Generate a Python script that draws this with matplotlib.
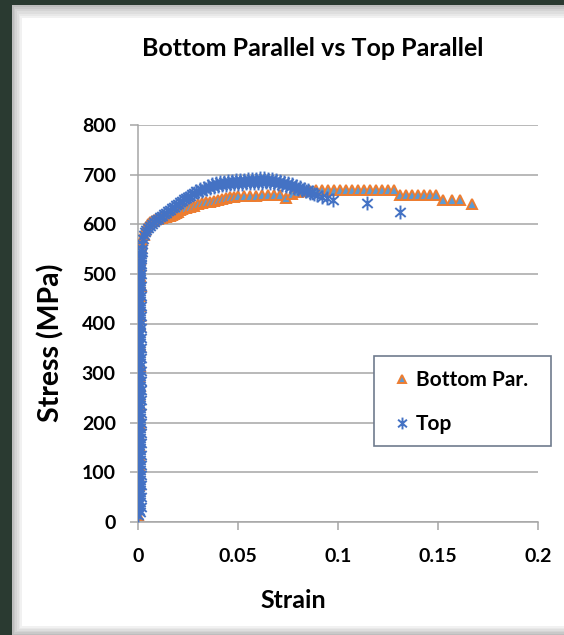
import matplotlib
matplotlib.use("Agg")
import matplotlib.pyplot as plt
from matplotlib.patches import Rectangle
from matplotlib.path import Path

W, H = 564, 635

# ---- data: stress (MPa) vs strain ----
bottom_strain = [
    0.0000, 0.0004, 0.0001, 0.0005, 0.0002, 0.0006, 0.0003, 0.0007, 0.0004, 0.0008,
    0.0004, 0.0009, 0.0005, 0.0010, 0.0006, 0.0010, 0.0006, 0.0011, 0.0007, 0.0012,
    0.0008, 0.0012, 0.0008, 0.0013, 0.0009, 0.0010, 0.0011, 0.0012, 0.0014, 0.0017,
    0.0022, 0.0028, 0.0034, 0.0040, 0.0050, 0.0060, 0.0070, 0.0080, 0.0090, 0.0100,
    0.0110, 0.0120, 0.0130, 0.0140, 0.0150, 0.0160, 0.0170, 0.0180, 0.0190, 0.0200,
    0.0210, 0.0220, 0.0240, 0.0260, 0.0280, 0.0300, 0.0320, 0.0340, 0.0360, 0.0380,
    0.0400, 0.0420, 0.0440, 0.0460, 0.0480, 0.0500, 0.0530, 0.0560, 0.0590, 0.0620,
    0.0650, 0.0680, 0.0710, 0.0740, 0.0770, 0.0800, 0.0830, 0.0860, 0.0890, 0.0920,
    0.0950, 0.0980, 0.1010, 0.1040, 0.1070, 0.1100, 0.1130, 0.1160, 0.1190, 0.1220,
    0.1250, 0.1280, 0.1310, 0.1340, 0.1370, 0.1400, 0.1430, 0.1460, 0.1490, 0.1525,
    0.1570, 0.1610, 0.1670,
]
bottom_stress = [
    15, 35, 55, 75, 95, 115, 135, 155, 175, 195,
    215, 235, 255, 275, 295, 315, 335, 355, 375, 395,
    415, 435, 455, 475, 495, 515, 530, 545, 555, 562,
    568, 578, 588, 595, 600, 604, 606, 608, 610, 610,
    612, 612, 614, 614, 616, 616, 618, 620, 622, 625,
    628, 630, 632, 634, 636, 640, 642, 644, 645, 646,
    648, 650, 652, 654, 655, 656, 656, 657, 657, 658,
    658, 658, 658, 652, 660, 664, 666, 668, 670, 670,
    670, 670, 670, 670, 670, 670, 670, 670, 670, 670,
    670, 670, 658, 658, 658, 658, 658, 658, 658, 648,
    648, 648, 640,
]

top_strain = [
    # elastic loading
    0.0000, 0.0009, 0.0004, 0.0013, 0.0002, 0.0011, 0.0006, 0.0015, 0.0001, 0.0008,
    0.0012, 0.0005, 0.0016, 0.0003, 0.0010, 0.0007, 0.0014, 0.0000, 0.0009, 0.0004,
    0.0013, 0.0002, 0.0011, 0.0006, 0.0015, 0.0001, 0.0008, 0.0012, 0.0005, 0.0016,
    0.0003, 0.0010, 0.0007, 0.0014, 0.0000, 0.0009, 0.0004, 0.0013, 0.0002, 0.0011,
    0.0006, 0.0015, 0.0001, 0.0008, 0.0012, 0.0005, 0.0016, 0.0003, 0.0010, 0.0007,
    0.0014, 0.0000, 0.0009, 0.0004, 0.0013, 0.0002, 0.0011, 0.0006, 0.0015, 0.0001,
    0.0008, 0.0012, 0.0005, 0.0016, 0.0003, 0.0010, 0.0007, 0.0014, 0.0001, 0.0009,
    0.0004, 0.0013, 0.0002, 0.0011, 0.0006, 0.0015, 0.0001, 0.0008, 0.0012, 0.0005,
    0.0016, 0.0003, 0.0010, 0.0007, 0.0014, 0.0002, 0.0009, 0.0004, 0.0013, 0.0003,
    0.0011, 0.0006, 0.0015, 0.0004, 0.0008, 0.0012, 0.0006, 0.0016, 0.0008, 0.0012,
    0.0010, 0.0014, 0.0012, 0.0016, 0.0015, 0.0017, 0.0018, 0.0019,
    # plastic flow
    0.0020, 0.0025, 0.0030, 0.0035, 0.0040, 0.0050, 0.0060, 0.0070, 0.0080,
    0.0090, 0.0100, 0.0110, 0.0120, 0.0130, 0.0140, 0.0150, 0.0160, 0.0170, 0.0180,
    0.0190, 0.0200, 0.0210, 0.0220, 0.0230, 0.0240, 0.0250, 0.0260, 0.0270, 0.0280,
    0.0290, 0.0300, 0.0310, 0.0320, 0.0330, 0.0340, 0.0350, 0.0360, 0.0370, 0.0380,
    0.0390, 0.0400, 0.0410, 0.0420, 0.0430, 0.0440, 0.0450, 0.0460, 0.0470, 0.0480,
    0.0490, 0.0500, 0.0510, 0.0520, 0.0530, 0.0540, 0.0550, 0.0560, 0.0570, 0.0580,
    0.0590, 0.0600, 0.0610, 0.0620, 0.0630, 0.0640, 0.0650, 0.0660, 0.0670, 0.0680,
    0.0690, 0.0700, 0.0710, 0.0720, 0.0730, 0.0740, 0.0750, 0.0760, 0.0770, 0.0780,
    0.0790, 0.0800, 0.0810, 0.0820, 0.0830, 0.0840, 0.0850, 0.0860, 0.0870, 0.0880,
    0.0895, 0.0920, 0.0945, 0.0975, 0.1145, 0.1310,
]
top_stress = [
    # elastic loading
    15, 20, 25, 30, 35, 40, 45, 50, 55, 60,
    65, 70, 75, 80, 85, 90, 95, 100, 105, 110,
    115, 120, 125, 130, 135, 140, 145, 150, 155, 160,
    165, 170, 175, 180, 185, 190, 195, 200, 205, 210,
    215, 220, 225, 230, 235, 240, 245, 250, 255, 260,
    265, 270, 275, 280, 285, 290, 295, 300, 305, 310,
    315, 320, 325, 330, 335, 340, 345, 350, 355, 360,
    365, 370, 375, 380, 385, 390, 395, 400, 405, 410,
    415, 420, 425, 430, 435, 440, 445, 450, 455, 460,
    465, 470, 475, 480, 485, 490, 495, 500, 505, 510,
    515, 520, 525, 530, 535, 540, 545, 550,
    # plastic flow
    560, 570, 578, 584, 588, 593, 597, 601, 605,
    608, 611, 614, 617, 620, 623, 626, 629, 632, 635,
    638, 641, 644, 647, 650, 652, 655, 657, 660, 662,
    666, 664, 671, 668, 674, 671, 678, 673, 681, 675,
    683, 677, 685, 679, 686, 680, 687, 681, 688, 681,
    689, 682, 690, 682, 690, 683, 691, 683, 692, 684,
    692, 684, 693, 684, 693, 685, 692, 684, 692, 683,
    690, 682, 688, 680, 686, 678, 684, 676, 681, 674,
    678, 671, 675, 669, 672, 666, 669, 663, 665, 661,
    658, 655, 652, 648, 642, 624,
]

x_ticks = [0, 0.05, 0.1, 0.15, 0.2]
x_tick_labels = ["0", "0.05", "0.1", "0.15", "0.2"]
y_ticks = [0, 100, 200, 300, 400, 500, 600, 700, 800]

FONT = "Lato"
GRID = "#a6a6a6"
BLUE = "#4472c4"

# asterisk marker: a vertical stroke crossed by an "x"
ASTERISK = Path(
    [(0, -1), (0, 1), (-0.75, -0.65), (0.75, 0.65), (-0.75, 0.65), (0.75, -0.65)],
    [Path.MOVETO, Path.LINETO, Path.MOVETO, Path.LINETO, Path.MOVETO, Path.LINETO],
)

fig = plt.figure(figsize=(W / 100, H / 100), dpi=100, facecolor="#2a3a31")


def px_rect(x0, y0, x1, y1, face, edge="none", lw=0, z=-10):
    """Rectangle given in pixel coordinates measured from the top-left corner."""
    r = Rectangle((x0 / W, 1 - y1 / H), (x1 - x0) / W, (y1 - y0) / H,
                  transform=fig.transFigure, facecolor=face, edgecolor=edge,
                  linewidth=lw, zorder=z)
    fig.patches.append(r)
    return r


# soft drop shadow around the white chart area, then the chart area itself
shades = ["#bdbdbd", "#c9c9c9", "#d4d4d4", "#dedede", "#e8e8e8", "#f1f1f1"]
for i, c in enumerate(shades):
    d = len(shades) - i
    px_rect(22 - 1.7 * d, 18 - 2.2 * d, W + 5, 626 + 1.5 * d, c)
px_rect(22, 18, W + 5, 626, "white")

# plot area
ax = fig.add_axes([138 / W, 1 - 522 / H, 400 / W, 397 / H])
ax.set_facecolor("none")

ax.plot(bottom_strain, bottom_stress, linestyle="none", marker="^", markersize=7,
        markerfacecolor="#5b9bd5", markeredgecolor="#ed7d31", markeredgewidth=1.4,
        label="Bottom Par.", zorder=3)
ax.plot(top_strain, top_stress, linestyle="none", marker=ASTERISK, markersize=10,
        color=BLUE, markeredgewidth=1.4, label="Top", zorder=4)

ax.set_xlim(0, 0.2)
ax.set_ylim(0, 800)
ax.set_xticks(x_ticks)
ax.set_xticklabels(x_tick_labels)
ax.set_yticks(y_ticks)

for side in ("top", "right"):
    ax.spines[side].set_visible(False)
for side in ("left", "bottom"):
    ax.spines[side].set_color(GRID)
    ax.spines[side].set_linewidth(1.1)

ax.yaxis.grid(True, color=GRID, linewidth=1.1)
ax.set_axisbelow(True)
ax.tick_params(axis="both", direction="out", length=6, width=1.1, color=GRID,
               labelsize=14, labelcolor="black")
ax.tick_params(axis="y", pad=10)
ax.tick_params(axis="x", pad=13)
for lab in ax.get_xticklabels() + ax.get_yticklabels():
    lab.set_fontfamily(FONT)
    lab.set_fontweight("bold")

fig.text(313 / W, 1 - 48 / H, "Bottom Parallel vs Top Parallel", ha="center",
         va="center", fontsize=18, fontweight="bold", family=FONT)
fig.text(51 / W, 1 - 343 / H, "Stress (MPa)", ha="center", va="center",
         rotation=90, fontsize=20.5, fontweight="bold", family=FONT)
fig.text(293 / W, 1 - 600 / H, "Strain", ha="center", va="center",
         fontsize=18, fontweight="bold", family=FONT)

# legend: framed box drawn separately, entries placed inside it
px_rect(374, 356, 551, 446, "white", edge="#6f7b8e", lw=1.2, z=5)
leg = fig.legend(handles=ax.get_lines(), loc="upper left",
                 bbox_to_anchor=(392 / W, 1 - 370 / H), frameon=False,
                 borderpad=0, borderaxespad=0, labelspacing=1.15,
                 handlelength=1.0, handletextpad=0.15,
                 prop={"family": FONT, "weight": "bold", "size": 15},
                 markerscale=0.85)
leg.set_zorder(6)

fig.savefig("out.png", dpi=100, facecolor=fig.get_facecolor())
